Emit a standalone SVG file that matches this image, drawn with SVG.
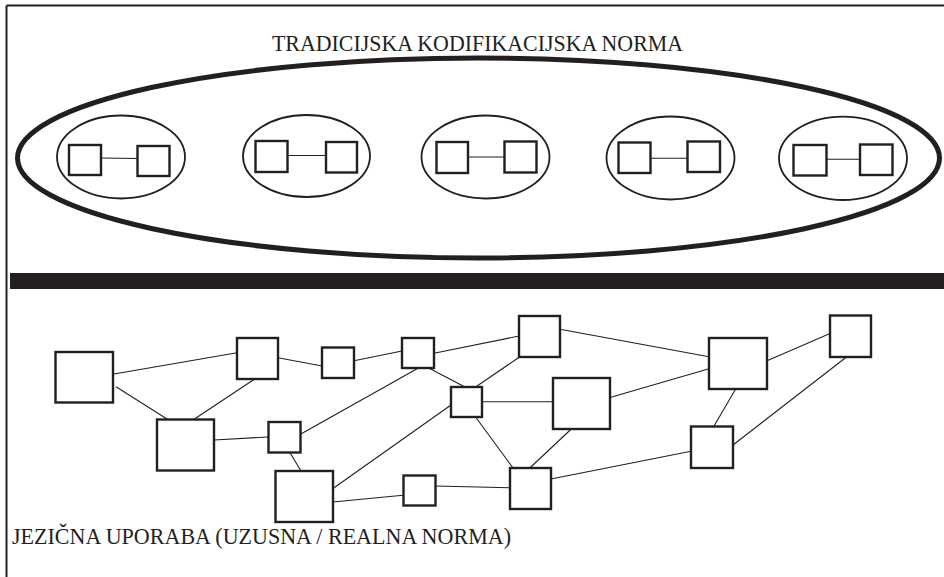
<svg xmlns="http://www.w3.org/2000/svg" width="944" height="577" viewBox="0 0 944 577">
  <style>
    .frame { stroke: #231f20; stroke-width: 2; fill: none; }
    .outer { fill: none; stroke: #231f20; stroke-width: 5; }
    .cell { fill: none; stroke: #231f20; stroke-width: 1.8; }
    .box { fill: #ffffff; stroke: #231f20; stroke-width: 2.4; }
    .link { stroke: #231f20; stroke-width: 1.1; fill: none; }
    .label { font-family: "Liberation Serif", "Times New Roman", serif; font-size: 23px; fill: #231f20; }
  </style>
  <rect width="944" height="577" fill="#ffffff"/>

  <!-- page frame -->
  <g id="frame">
    <line class="frame" x1="6.5" y1="5.5" x2="944" y2="5.5"/>
    <line class="frame" x1="6.5" y1="5.5" x2="6.5" y2="577"/>
  </g>

  <!-- upper part: codified norm -->
  <text class="label" x="272" y="51" textLength="411" lengthAdjust="spacingAndGlyphs">TRADICIJSKA KODIFIKACIJSKA NORMA</text>
  <ellipse id="norm-boundary" class="outer" cx="478.5" cy="158" rx="461" ry="100"/>

  <g id="cell-1">
    <ellipse class="cell" cx="121" cy="157" rx="64" ry="41.5"/>
    <line class="link" x1="101" y1="158" x2="137" y2="158.5"/>
    <rect class="box" x="69" y="145" width="32" height="30"/>
    <rect class="box" x="137.5" y="146" width="32" height="30"/>
  </g>
  <g id="cell-2">
    <ellipse class="cell" cx="306.5" cy="156" rx="63.5" ry="41"/>
    <line class="link" x1="288" y1="155.5" x2="326" y2="155.5"/>
    <rect class="box" x="255.5" y="141" width="32" height="31"/>
    <rect class="box" x="326" y="142" width="31" height="30.5"/>
  </g>
  <g id="cell-3">
    <ellipse class="cell" cx="485.5" cy="157" rx="64" ry="41.5"/>
    <line class="link" x1="468" y1="157" x2="504.5" y2="157"/>
    <rect class="box" x="436.5" y="142" width="31.5" height="31"/>
    <rect class="box" x="504.5" y="141.5" width="32" height="31"/>
  </g>
  <g id="cell-4">
    <ellipse class="cell" cx="670.5" cy="158" rx="64" ry="41.5"/>
    <line class="link" x1="650.5" y1="158.3" x2="687.5" y2="158.3"/>
    <rect class="box" x="618.5" y="142.5" width="32" height="30.5"/>
    <rect class="box" x="687.5" y="141.5" width="32.5" height="30.5"/>
  </g>
  <g id="cell-5">
    <ellipse class="cell" cx="843" cy="158.3" rx="64" ry="41.7"/>
    <line class="link" x1="826.5" y1="159.3" x2="860" y2="159.3"/>
    <rect class="box" x="793.5" y="145" width="33" height="30.5"/>
    <rect class="box" x="860" y="144.5" width="32.5" height="30.5"/>
  </g>

  <!-- divider between the two levels -->
  <rect id="divider" x="10" y="273" width="934" height="16" fill="#231f20"/>

  <!-- lower part: usage network -->
  <g id="connectors">
    <line class="link" x1="114" y1="374" x2="237" y2="352.7"/>
    <line class="link" x1="116" y1="386.7" x2="167" y2="419"/>
    <line class="link" x1="254.7" y1="379" x2="194.5" y2="419"/>
    <line class="link" x1="278" y1="357.7" x2="322" y2="366"/>
    <line class="link" x1="354" y1="360.7" x2="402" y2="351"/>
    <line class="link" x1="434" y1="353.3" x2="519" y2="336"/>
    <line class="link" x1="418.4" y1="368" x2="300" y2="434.5"/>
    <line class="link" x1="428.7" y1="368" x2="465" y2="387"/>
    <line class="link" x1="519.5" y1="357" x2="475.6" y2="387"/>
    <line class="link" x1="560" y1="329.3" x2="709" y2="356.7"/>
    <line class="link" x1="767" y1="360.7" x2="830" y2="333.5"/>
    <line class="link" x1="482" y1="401.7" x2="553" y2="401.7"/>
    <line class="link" x1="451" y1="405" x2="333" y2="488.5"/>
    <line class="link" x1="475.6" y1="417" x2="513" y2="468"/>
    <line class="link" x1="571.3" y1="429" x2="529.8" y2="468"/>
    <line class="link" x1="610" y1="397.5" x2="709" y2="368.7"/>
    <line class="link" x1="735.7" y1="389" x2="714" y2="426"/>
    <line class="link" x1="846.5" y1="357" x2="733" y2="445"/>
    <line class="link" x1="691" y1="451.3" x2="551" y2="479"/>
    <line class="link" x1="214" y1="440" x2="268" y2="437"/>
    <line class="link" x1="289.6" y1="452" x2="301" y2="471"/>
    <line class="link" x1="333" y1="502" x2="403" y2="495.3"/>
    <line class="link" x1="435" y1="486" x2="510" y2="487.7"/>
  </g>

  <g id="n1"><rect class="box" x="55.5" y="352" width="57.5" height="50.5"/></g>
  <g id="n2"><rect class="box" x="237" y="338" width="41" height="41"/></g>
  <g id="n3"><rect class="box" x="322" y="347.5" width="32" height="30.5"/></g>
  <g id="n4"><rect class="box" x="402" y="338" width="32" height="30"/></g>
  <g id="n5"><rect class="box" x="519" y="316" width="41" height="41"/></g>
  <g id="n6"><rect class="box" x="709" y="338" width="58" height="51"/></g>
  <g id="n7"><rect class="box" x="830" y="315.5" width="41" height="41.5"/></g>
  <g id="n8"><rect class="box" x="157" y="419.5" width="57" height="51"/></g>
  <g id="n9"><rect class="box" x="268.5" y="422" width="32" height="30.5"/></g>
  <g id="n10"><rect class="box" x="451" y="387" width="31" height="30"/></g>
  <g id="n11"><rect class="box" x="553" y="378" width="57" height="51"/></g>
  <g id="n12"><rect class="box" x="691" y="426.5" width="42" height="41.5"/></g>
  <g id="n13"><rect class="box" x="275.5" y="471" width="57.5" height="51"/></g>
  <g id="n14"><rect class="box" x="403.5" y="475.5" width="32" height="30"/></g>
  <g id="n15"><rect class="box" x="510" y="468" width="41" height="41"/></g>

  <text class="label" x="12" y="543.5" textLength="499" lengthAdjust="spacingAndGlyphs">JEZIČNA UPORABA (UZUSNA / REALNA NORMA)</text>
</svg>
